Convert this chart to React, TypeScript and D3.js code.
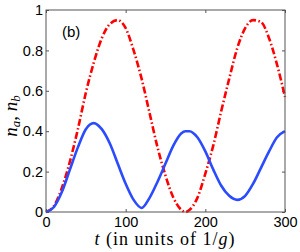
import { useEffect, useRef } from "react";
import * as d3 from "d3";

// time grid (units of 1/g)
const tVals = [0, 10, 20, 30, 40, 50, 60, 70, 80, 90, 100, 110, 120, 130, 140, 150, 160, 170, 175, 180, 190, 200, 210, 220, 230, 240, 250, 260, 270, 280, 290, 300];
// n_a (blue solid)
const naVals = [0, 0.025, 0.1, 0.21, 0.32, 0.41, 0.44, 0.41, 0.34, 0.24, 0.14, 0.06, 0.02, 0.07, 0.15, 0.24, 0.33, 0.39, 0.4, 0.4, 0.37, 0.3, 0.21, 0.13, 0.08, 0.06, 0.08, 0.14, 0.22, 0.3, 0.37, 0.4];
// n_b (red dash-dot)
const nbVals = [0, 0.03, 0.12, 0.25, 0.41, 0.59, 0.74, 0.86, 0.93, 0.95, 0.91, 0.8, 0.66, 0.49, 0.32, 0.18, 0.07, 0.01, 0, 0.01, 0.07, 0.19, 0.33, 0.5, 0.66, 0.81, 0.91, 0.95, 0.94, 0.86, 0.73, 0.57];

const xTicks = [0, 100, 200, 300];
const yTicks = [0, 0.2, 0.4, 0.6, 0.8, 1];

export default function App() {
  const ref = useRef<SVGSVGElement | null>(null);

  useEffect(() => {
    if (!ref.current) return;
    const svg = d3.select(ref.current);
    svg.selectAll("*").remove();
    const margin = { top: 10, right: 15, bottom: 40, left: 46 };
    const width = 300, height = 252;
    const innerW = width - margin.left - margin.right;
    const innerH = height - margin.top - margin.bottom;

    const x = d3.scaleLinear().domain([0, 300]).range([0, innerW]);
    const y = d3.scaleLinear().domain([0, 1]).range([innerH, 0]);

    svg.append("rect").attr("width", width).attr("height", height).attr("fill", "#fff");
    const g = svg.append("g").attr("transform", `translate(${margin.left},${margin.top})`);

    const tickFont = "Liberation Sans, Arial, sans-serif";
    const axisColor = "#555";

    // bottom + top ticks
    g.append("g").attr("transform", `translate(0,${innerH})`)
      .call(d3.axisBottom(x).tickValues(xTicks).tickSize(-3).tickPadding(5).tickFormat(d3.format("d")))
      .call((s) => s.select(".domain").remove())
      .call((s) => s.selectAll("line").attr("stroke", axisColor))
      .call((s) => s.selectAll("text").attr("fill", "#000").attr("font-size", 14.5).attr("font-family", tickFont));
    g.append("g")
      .call(d3.axisTop(x).tickValues(xTicks).tickSize(-3).tickFormat(() => ""))
      .call((s) => s.select(".domain").remove())
      .call((s) => s.selectAll("line").attr("stroke", axisColor));

    // left + right ticks
    g.append("g")
      .call(d3.axisLeft(y).tickValues(yTicks).tickSize(-3).tickPadding(3).tickFormat((d) => `${d}`))
      .call((s) => s.select(".domain").remove())
      .call((s) => s.selectAll("line").attr("stroke", axisColor))
      .call((s) => s.selectAll("text").attr("fill", "#000").attr("font-size", 14.5).attr("font-family", tickFont));
    g.append("g").attr("transform", `translate(${innerW},0)`)
      .call(d3.axisRight(y).tickValues(yTicks).tickSize(-3).tickFormat(() => ""))
      .call((s) => s.select(".domain").remove())
      .call((s) => s.selectAll("line").attr("stroke", axisColor));

    const line = d3.line<number>()
      .x((_, i) => x(tVals[i]))
      .y((d) => y(d))
      .curve(d3.curveMonotoneX);

    g.append("path").datum(nbVals).attr("d", line).attr("fill", "none")
      .attr("stroke", "#ff0000").attr("stroke-width", 2.6)
      .attr("stroke-dasharray", "7,2.5,1.5,2.5");
    g.append("path").datum(naVals).attr("d", line).attr("fill", "none")
      .attr("stroke", "#2a4bff").attr("stroke-width", 2.6);

    g.append("rect").attr("width", innerW).attr("height", innerH)
      .attr("fill", "none").attr("stroke", axisColor).attr("stroke-width", 1);

    g.append("text").attr("x", 16).attr("y", 27).attr("font-size", 15)
      .attr("font-family", tickFont).attr("fill", "#000").text("(b)");

    // y label
    const yl = svg.append("text")
      .attr("transform", `translate(17,116) rotate(-90)`)
      .attr("text-anchor", "middle").attr("font-family", "Liberation Serif, serif")
      .attr("font-size", 19).attr("fill", "#000");
    yl.append("tspan").attr("font-style", "italic").text("n");
    yl.append("tspan").attr("font-style", "italic").attr("font-size", 13).attr("dy", 3).text("a");
    yl.append("tspan").attr("dy", -3).text(", ");
    yl.append("tspan").attr("font-style", "italic").text("n");
    yl.append("tspan").attr("font-style", "italic").attr("font-size", 13).attr("dy", 3).text("b");

    // x label
    const xl = svg.append("text").attr("x", 165).attr("y", 245)
      .attr("text-anchor", "middle").attr("font-family", "Liberation Serif, serif")
      .attr("font-size", 18).attr("letter-spacing", 1).attr("fill", "#000");
    xl.append("tspan").attr("font-style", "italic").text("t");
    xl.append("tspan").text(" (in units of 1/");
    xl.append("tspan").attr("font-style", "italic").text("g");
    xl.append("tspan").text(")");
  }, []);

  return (
    <svg ref={ref} width={300} height={252}
      style={{ position: "absolute", left: 0, top: 0, display: "block" }} />
  );
}
